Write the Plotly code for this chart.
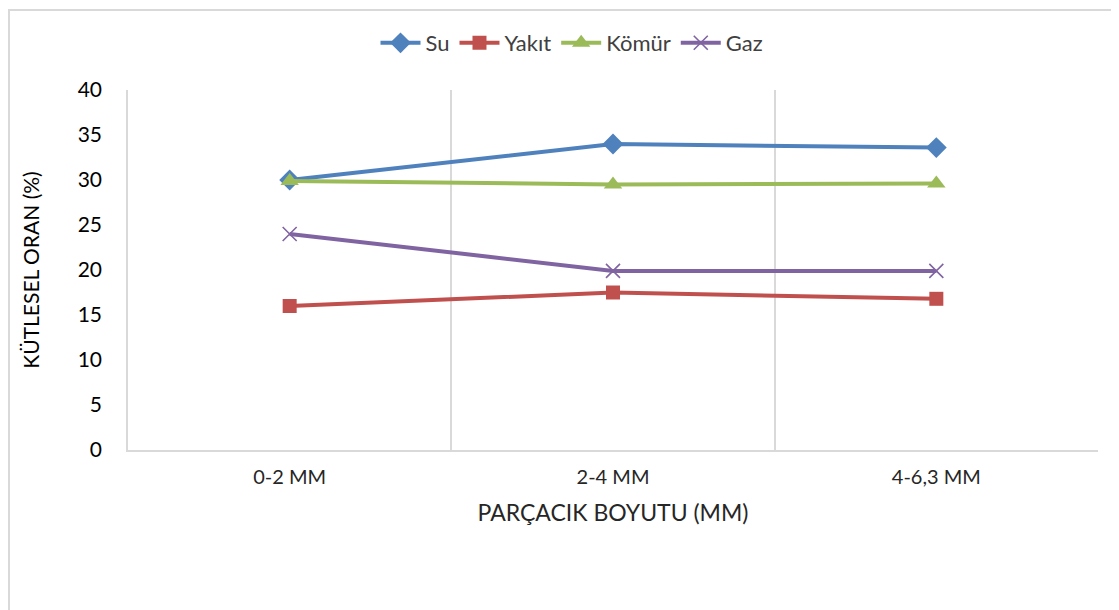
import plotly.graph_objects as go

categories = ["0-2 MM", "2-4 MM", "4-6,3 MM"]
su = [30.0, 34.0, 33.6]
yakit = [16.0, 17.5, 16.8]
komur = [29.9, 29.5, 29.6]
gaz = [24.0, 19.9, 19.9]
y_ticks = [0, 5, 10, 15, 20, 25, 30, 35, 40]

series = [
    ("Su", su, "#4F81BD", dict(symbol="diamond", size=16)),
    ("Yakıt", yakit, "#C0504D", dict(symbol="square", size=14)),
    ("Kömür", komur, "#9BBB59", dict(symbol="triangle-up", size=16)),
    ("Gaz", gaz, "#8064A2", dict(symbol="x-thin", size=14)),
]

fig = go.Figure()
for name, vals, color, mk in series:
    marker = dict(color=color, **mk)
    if mk["symbol"] == "x-thin":
        marker["line"] = dict(color=color, width=1.6)
    else:
        marker["line"] = dict(width=0)
    fig.add_trace(go.Scatter(
        x=categories, y=vals, name=name, mode="lines+markers",
        line=dict(color=color, width=4), marker=marker,
    ))

# page body has an 8px margin, so the plot is laid out relative to that
off = 8
L, T, R, B = 128, 90, 1098, 450
font_family = "Lato, Open Sans, sans-serif"
fig.update_layout(
    width=1119, height=610,
    margin=dict(l=L - off, r=1119 + off - R, t=T - off, b=610 + off - B),
    paper_bgcolor="white", plot_bgcolor="white",
    font=dict(family=font_family, color="#262626", size=20),
    showlegend=True,
    legend=dict(orientation="h", x=(572 - L) / (R - L), xanchor="center",
                y=(B - 43) / (B - T), yanchor="middle",
                font=dict(size=22, color="#404040"), itemwidth=40, tracegroupgap=0),
    xaxis=dict(
        type="category", range=[-0.5, 2.5], tickson="boundaries",
        showgrid=True, gridcolor="#d9d9d9", gridwidth=1.5,
        showline=True, linecolor="#d9d9d9", linewidth=1.5,
        ticks="", tickfont=dict(size=20, color="#262626"), ticklabelstandoff=8,
        title=dict(text="PARÇACIK BOYUTU (MM)", font=dict(size=23, color="#262626"), standoff=18),
        fixedrange=True,
    ),
    yaxis=dict(
        range=[0, 40], tickvals=y_ticks, showgrid=False, zeroline=False,
        showline=True, linecolor="#d9d9d9", linewidth=1.5,
        ticks="", tickfont=dict(size=21, color="#000000"), ticklabelstandoff=20,
        title=dict(text="KÜTLESEL ORAN (%)", font=dict(size=21, color="#000000"), standoff=32),
    ),
    shapes=[dict(type="rect", xref="paper", yref="paper",
                 x0=(9 - L) / (R - L), x1=(1130 - L) / (R - L),
                 y0=(B - 640) / (B - T), y1=(B - 10) / (B - T),
                 line=dict(color="#d9d9d9", width=2), fillcolor="rgba(0,0,0,0)", layer="below")],
)

fig.write_html("out.html")
